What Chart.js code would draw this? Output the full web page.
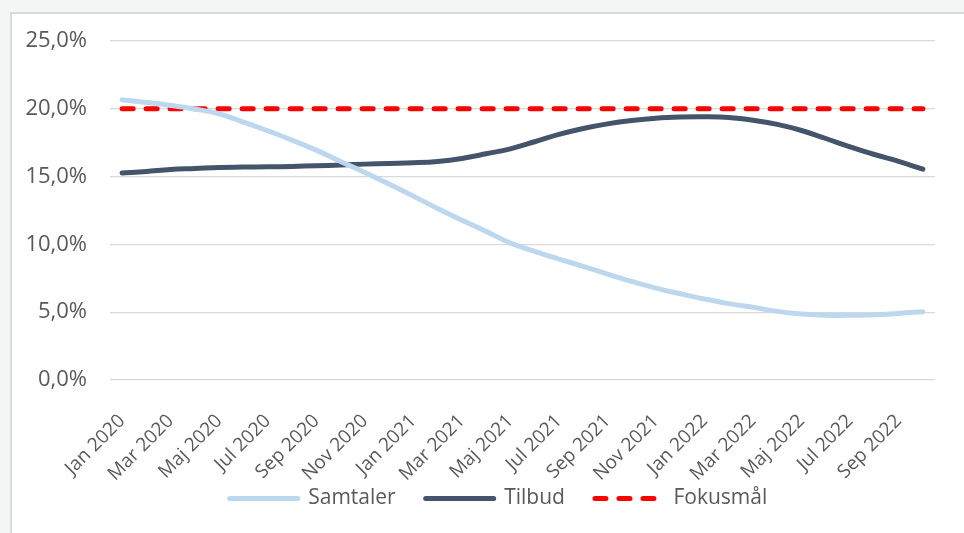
<!DOCTYPE html>
<html>
<head>
<meta charset="utf-8">
<script src="https://cdn.jsdelivr.net/npm/chart.js@4/dist/chart.umd.min.js"></script>
<style>
  html, body { margin: 0; padding: 0; background: #f4f6f6; }
  #box {
    position: absolute; left: 10px; top: 12px;
    width: 952px; height: 519px;
    border-left: 2px solid #dadada; border-top: 2px solid #dadada;
    background: #fff;
  }
  canvas { display: block; }
</style>
</head>
<body>
<div id="box"><canvas id="chart" width="952" height="519"></canvas></div>
<script>
// Samtaler / Tilbud / Fokusmål pr. måned, andel i procent
const months = [
  'Jan 2020','Feb 2020','Mar 2020','Apr 2020','Maj 2020','Jun 2020','Jul 2020','Aug 2020','Sep 2020','Okt 2020','Nov 2020','Dec 2020',
  'Jan 2021','Feb 2021','Mar 2021','Apr 2021','Maj 2021','Jun 2021','Jul 2021','Aug 2021','Sep 2021','Okt 2021','Nov 2021','Dec 2021',
  'Jan 2022','Feb 2022','Mar 2022','Apr 2022','Maj 2022','Jun 2022','Jul 2022','Aug 2022','Sep 2022','Okt 2022'];
const samtaler = [20.66, 20.47, 20.25, 19.98, 19.63, 19.02, 18.38, 17.69, 16.95, 16.12, 15.31, 14.45,
  13.56, 12.65, 11.79, 10.96, 10.10, 9.48, 8.92, 8.38, 7.81, 7.27, 6.78, 6.36,
  5.97, 5.63, 5.36, 5.06, 4.87, 4.77, 4.77, 4.82, 4.91, 5.04];
const tilbud = [15.26, 15.38, 15.53, 15.60, 15.68, 15.70, 15.72, 15.75, 15.80, 15.85, 15.92, 15.97,
  16.02, 16.12, 16.34, 16.68, 17.05, 17.57, 18.11, 18.55, 18.89, 19.14, 19.31, 19.39,
  19.41, 19.36, 19.16, 18.85, 18.40, 17.81, 17.20, 16.63, 16.12, 15.55];
const fokusmaal = [20, 20, 20, 20, 20, 20, 20, 20, 20, 20, 20, 20,
  20, 20, 20, 20, 20, 20, 20, 20, 20, 20, 20, 20,
  20, 20, 20, 20, 20, 20, 20, 20, 20, 20];
const yTicks = [0, 5, 10, 15, 20, 25];

const txt = '#595959';

// legenden sidder lidt til højre for midten i originalen
const shiftLegend = {
  id: 'shiftLegend',
  afterLayout(chart) { chart.legend.left += 25; chart.legend.right += 25; }
};

new Chart(document.getElementById('chart'), {
  type: 'line',
  data: {
    labels: months,
    datasets: [
      { label: 'Samtaler', data: samtaler, borderColor: '#bdd7ee', backgroundColor: '#bdd7ee',
        borderWidth: 5, tension: 0.4, pointRadius: 0, borderCapStyle: 'round' },
      { label: 'Tilbud', data: tilbud, borderColor: '#44546a', backgroundColor: '#44546a',
        borderWidth: 5, tension: 0.4, pointRadius: 0, borderCapStyle: 'round' },
      { label: 'Fokusmål', data: fokusmaal, borderColor: '#ff0000', backgroundColor: '#ff0000',
        borderWidth: 5, borderDash: [11, 13], borderCapStyle: 'round', pointRadius: 0 }
    ]
  },
  plugins: [shiftLegend],
  options: {
    responsive: false, animation: false,
    layout: { padding: { left: 0, right: 29, top: 27, bottom: 14 } },
    plugins: {
      tooltip: { enabled: false },
      legend: {
        position: 'bottom',
        labels: {
          usePointStyle: true, pointStyleWidth: 68,
          color: txt, padding: 30,
          font: { family: 'Open Sans', size: 21 },
          generateLabels: chart => chart.data.datasets.map((ds, i) => ({
            text: ds.label, datasetIndex: i, hidden: false,
            strokeStyle: ds.borderColor, fillStyle: ds.borderColor,
            lineWidth: 5, lineDash: ds.borderDash || [], lineCap: 'round',
            pointStyle: 'line', fontColor: txt
          }))
        }
      }
    },
    scales: {
      x: {
        offset: true,
        afterFit: s => {
          s.height = 78;
          s._computeLabelArea = () => null; // skrå etiketter må gå ned under aksens boks
        },
        grid: { display: false }, border: { display: false },
        ticks: {
          color: txt, padding: 22,
          minRotation: 45, maxRotation: 45, autoSkip: false,
          font: { family: 'Open Sans', size: 19 },
          callback: (v, i) => (i % 2 === 0 ? months[i] : null)
        }
      },
      y: {
        min: 0, max: 25,
        afterBuildTicks: s => { s.ticks = yTicks.map(v => ({ value: v })); },
        afterFit: s => { s.width = 98; s.paddingTop = 0; s.paddingBottom = 0; },
        grid: { color: '#d9d9d9', lineWidth: 1.3, drawTicks: false },
        border: { display: false },
        ticks: {
          color: txt, padding: 23,
          font: { family: 'Open Sans', size: 22 },
          callback: v => v.toFixed(1).replace('.', ',') + '%'
        }
      }
    }
  }
});
</script>
</body>
</html>
